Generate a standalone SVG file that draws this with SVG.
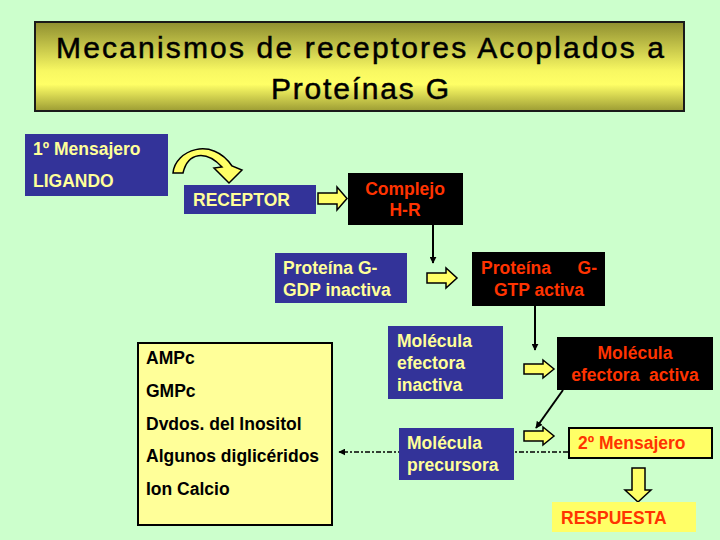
<svg xmlns="http://www.w3.org/2000/svg" width="720" height="540" viewBox="0 0 720 540">
<defs>
<linearGradient id="tg" x1="0" y1="0" x2="0" y2="1">
<stop offset="0" stop-color="#8f8f30"/>
<stop offset="0.55" stop-color="#f8f862"/>
<stop offset="0.7" stop-color="#ffff66"/>
<stop offset="1" stop-color="#9c9c34"/>
</linearGradient>
<marker id="ah" viewBox="0 0 10 10" refX="9" refY="5" markerWidth="7" markerHeight="7" markerUnits="userSpaceOnUse" orient="auto">
<path d="M0,0 L10,5 L0,10 z" fill="#000"/>
</marker>
</defs>
<style>
.blue{fill:#333399}
.blk{fill:#000}
.yt{fill:#ffff99;font-family:"Liberation Sans",Arial,sans-serif;font-weight:bold;font-size:17.5px}
.rt{fill:#ff3300;font-family:"Liberation Sans",Arial,sans-serif;font-weight:bold;font-size:17.5px}
.bt{fill:#000;font-family:"Liberation Sans",Arial,sans-serif;font-weight:bold;font-size:17.5px}
.tt{fill:#000;stroke:#000;stroke-width:0.5;font-family:"Liberation Sans",Arial,sans-serif;font-size:30px}
.ya{fill:#ffff66;stroke:#000;stroke-width:1.5;stroke-linejoin:miter}
.ln{stroke:#000;stroke-width:2;fill:none}
.dl{stroke:#000;stroke-width:1.5;fill:none;stroke-dasharray:5 2 2 2}
</style>
<rect width="720" height="540" fill="#ccffcc"/>

<g id="title">
<rect x="35" y="22" width="649" height="89" fill="url(#tg)" stroke="#1a1a1a" stroke-width="2"/>
<text class="tt" x="56" y="58" textLength="608" lengthAdjust="spacing">Mecanismos de receptores Acoplados a</text>
<text class="tt" x="271" y="99" textLength="178" lengthAdjust="spacing">Proteínas G</text>
</g>

<g id="connectors">
<line class="dl" x1="568" y1="452" x2="339" y2="452" marker-end="url(#ah)"/>
<line class="ln" x1="433" y1="225" x2="433" y2="263" marker-end="url(#ah)"/>
<line class="ln" x1="535" y1="306" x2="535" y2="350" marker-end="url(#ah)"/>
<line class="ln" x1="563" y1="390" x2="536" y2="428" marker-end="url(#ah)"/>
<path class="ya" d="M173,173 C175,150 212,136 232,166 L242,170 L229,183 L214,168 L222,167 C206,150 188,152 183,173 Z"/>
<path class="ya" d="M318,193 H337 V187 L347,198.5 L337,210 V204 H318 Z"/>
<path class="ya" d="M427,273 H446 V268 L457,278 L446,288 V283 H427 Z"/>
<path class="ya" d="M524,364 H543 V360 L554,369 L543,378 V374 H524 Z"/>
<path class="ya" d="M524,431 H543 V427 L554,436 L543,445 V441 H524 Z"/>
<path class="ya" d="M632,468 H645 V490 H651 L638,502 L625,490 H632 Z"/>
</g>

<g id="mensajero1">
<rect class="blue" x="25" y="134" width="143" height="62"/>
<text class="yt" x="33" y="155">1º Mensajero</text>
<text class="yt" x="33" y="187">LIGANDO</text>
</g>

<g id="receptor">
<rect class="blue" x="184" y="185" width="132" height="29"/>
<text class="yt" x="193" y="206">RECEPTOR</text>
</g>

<g id="complejo">
<rect class="blk" x="348" y="173" width="115" height="52"/>
<text class="rt" x="405" y="195" text-anchor="middle">Complejo</text>
<text class="rt" x="405" y="216" text-anchor="middle">H-R</text>
</g>

<g id="gdp">
<rect class="blue" x="275" y="253" width="132" height="50"/>
<text class="yt" x="283" y="274">Proteína G-</text>
<text class="yt" x="283" y="296">GDP inactiva</text>
</g>

<g id="gtp">
<rect class="blk" x="472" y="252" width="133" height="54"/>
<text class="rt" y="274"><tspan x="481">Proteína</tspan><tspan x="597" text-anchor="end">G-</tspan></text>
<text class="rt" x="539" y="296" text-anchor="middle">GTP activa</text>
</g>

<g id="efectora-inactiva">
<rect class="blue" x="388" y="326" width="115" height="73"/>
<text class="yt" x="397" y="347">Molécula</text>
<text class="yt" x="397" y="369">efectora</text>
<text class="yt" x="397" y="391">inactiva</text>
</g>

<g id="efectora-activa">
<rect class="blk" x="557" y="337" width="156" height="53"/>
<text class="rt" x="635" y="359" text-anchor="middle">Molécula</text>
<text class="rt" x="635" y="381" text-anchor="middle" xml:space="preserve">efectora  activa</text>
</g>

<g id="precursora">
<rect class="blue" x="399" y="428" width="115" height="52"/>
<text class="yt" x="407" y="449">Molécula</text>
<text class="yt" x="407" y="471">precursora</text>
</g>

<g id="mensajero2">
<rect x="569" y="428" width="143" height="30" fill="#ffff66" stroke="#000" stroke-width="2"/>
<text class="rt" x="578" y="449">2º Mensajero</text>
</g>

<g id="respuesta">
<rect x="552" y="502" width="144" height="30" fill="#ffff66"/>
<text class="rt" x="561" y="524">RESPUESTA</text>
</g>

<g id="lista">
<rect x="138" y="343" width="194" height="182" fill="#ffff99" stroke="#000" stroke-width="2"/>
<text class="bt" x="146" y="364">AMPc</text>
<text class="bt" x="146" y="397">GMPc</text>
<text class="bt" x="146" y="430">Dvdos. del Inositol</text>
<text class="bt" x="146" y="462">Algunos diglicéridos</text>
<text class="bt" x="146" y="495">Ion Calcio</text>
</g>
</svg>
